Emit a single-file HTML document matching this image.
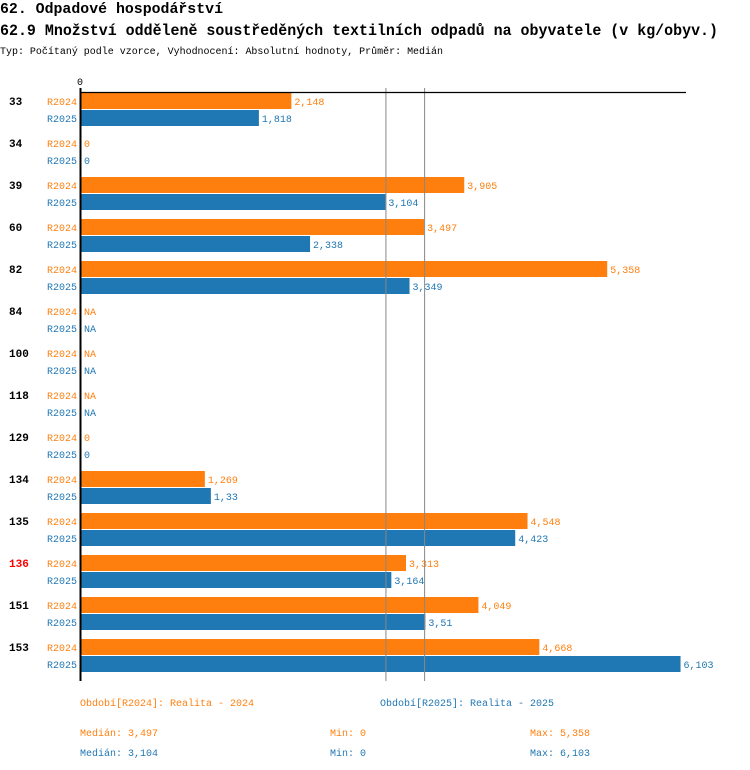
<!DOCTYPE html>
<html><head><meta charset="utf-8"><style>
body{margin:0;background:#fff}
svg{display:block;font-family:"Liberation Mono",monospace}
</style></head><body>
<svg width="750" height="770" viewBox="0 0 750 770" xmlns="http://www.w3.org/2000/svg">
<text x="0" y="13" font-size="15" font-weight="bold" textLength="223" lengthAdjust="spacingAndGlyphs">62. Odpadové hospodářství</text>
<text x="0" y="35" font-size="16" font-weight="bold" textLength="718" lengthAdjust="spacingAndGlyphs">62.9 Množství odděleně soustředěných textilních odpadů na obyvatele (v kg/obyv.)</text>
<text x="0" y="54" font-size="10" textLength="443" lengthAdjust="spacingAndGlyphs">Typ: Počítaný podle vzorce, Vyhodnocení: Absolutní hodnoty, Průměr: Medián</text>
<g id="plot"></g>
<g font-size="10">
<text x="80" y="706" fill="#ff7f0e">Období[R2024]: Realita - 2024</text>
<text x="380" y="706" fill="#1f77b4">Období[R2025]: Realita - 2025</text>
<text x="80" y="736" fill="#ff7f0e">Medián: 3,497</text>
<text x="330" y="736" fill="#ff7f0e">Min: 0</text>
<text x="530" y="736" fill="#ff7f0e">Max: 5,358</text>
<text x="80" y="756" fill="#1f77b4">Medián: 3,104</text>
<text x="330" y="756" fill="#1f77b4">Min: 0</text>
<text x="530" y="756" fill="#1f77b4">Max: 6,103</text>
</g>
</svg>
<script>
const categories=["33","34","39","60","82","84","100","118","129","134","135","136","151","153"];
const r2024=[2.148,0,3.905,3.497,5.358,null,null,null,0,1.269,4.548,3.313,4.049,4.668];
const r2025=[1.818,0,3.104,2.338,3.349,null,null,null,0,1.33,4.423,3.164,3.51,6.103];
const medians=[3.104,3.497];
const highlight="136";
const NS="http://www.w3.org/2000/svg";
const g=document.getElementById('plot');
const x0=80,scale=98.4,top0=93,pitch=42;
const xs=v=>x0+v*scale;
function mk(t,a){const e=document.createElementNS(NS,t);for(const k in a)e.setAttribute(k,a[k]);g.appendChild(e);return e;}
function fmt(v){return v===null?"NA":String(v).replace('.',',');}
const series=[[r2024,"#ff7f0e","R2024"],[r2025,"#1f77b4","R2025"]];
categories.forEach((c,i)=>{
  const gy=top0+pitch*i;
  const lab=mk('text',{x:9,y:gy+12,'font-size':11,'font-weight':'bold',fill:c===highlight?'#ff0000':'#000'});
  lab.textContent=c;
  
  
  series.forEach(([arr,col,name],j)=>{
    const y=gy+j*17;const v=arr[i];
    const t=mk('text',{x:77,y:y+12,'font-size':10,'text-anchor':'end',fill:col});
    t.textContent=name;
    
    
    let end=x0+1;
    if(v){const r=mk('rect',{x:x0,y:y,width:xs(v)-x0,height:16,fill:col});
      
      
      end=xs(v);}
    const vt=mk('text',{x:end+3,y:y+12,'font-size':10,fill:col});
    vt.textContent=fmt(v);
    
    
  });
});
medians.forEach((m,k)=>{
  const l=mk('line',{x1:xs(m)+0.5,x2:xs(m)+0.5,y1:88,y2:681,stroke:'#888','stroke-width':1});
  
  
});
const ax=mk('line',{x1:80.5,x2:80.5,y1:88,y2:681,stroke:'#000','stroke-width':2});


const tx=mk('line',{x1:80,x2:686,y1:92.5,y2:92.5,stroke:'#000','stroke-width':1.2});


const z=mk('text',{x:80,y:85,'font-size':10,'text-anchor':'middle'});
z.textContent="0";


</script>
</body></html>
